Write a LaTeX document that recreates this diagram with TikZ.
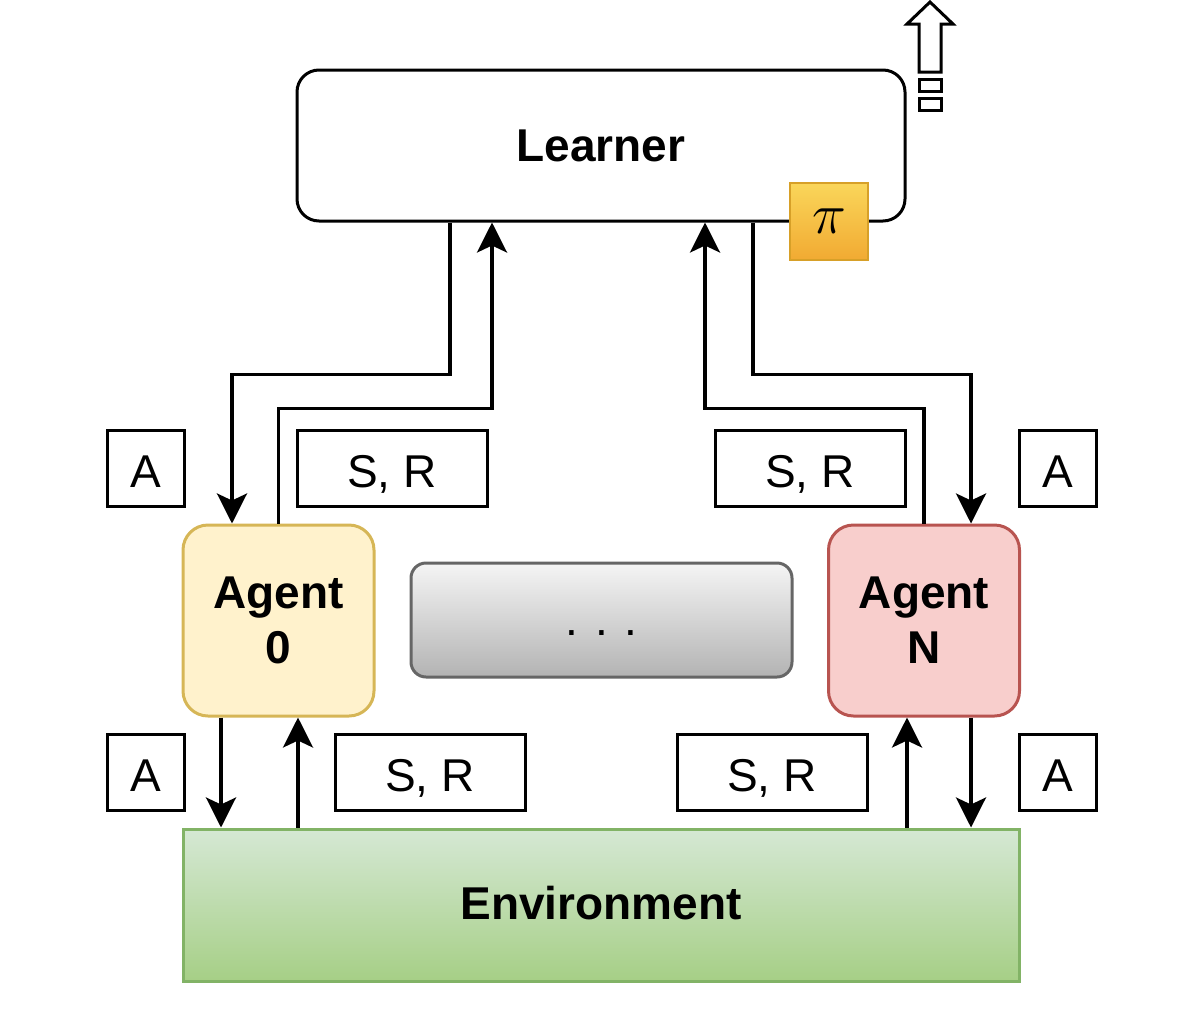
\documentclass[tikz,border=0pt]{standalone}
\usepackage{fontspec}
\setmainfont{Liberation Sans}
\usepackage{tikz}
\usetikzlibrary{arrows.meta,positioning}
\definecolor{zerofill}{RGB}{255,242,204}
\definecolor{zeroline}{RGB}{214,182,86}
\definecolor{nfill}{RGB}{248,206,204}
\definecolor{nline}{RGB}{184,84,80}
\definecolor{envtop}{RGB}{213,232,212}
\definecolor{envbot}{RGB}{166,207,134}
\definecolor{envline}{RGB}{130,179,102}
\definecolor{dotstop}{RGB}{245,245,245}
\definecolor{dotsbot}{RGB}{179,179,179}
\definecolor{dotsline}{RGB}{102,102,102}
\definecolor{pitop}{RGB}{250,214,90}
\definecolor{pibot}{RGB}{241,170,50}
\definecolor{piline}{RGB}{215,160,40}
\newcommand\bigtxt{\fontsize{46}{55}\selectfont}

\begin{document}
\begin{tikzpicture}[x=1pt,y=-1pt, font=\bigtxt,
  box/.style={draw, line width=3pt, inner sep=0pt, align=center, font=\bigtxt\bfseries},
  lbl/.style={draw, line width=3pt, inner sep=0pt, minimum height=76pt, text height=38pt, text depth=0pt},
  arr/.style={-{Stealth[length=30pt,width=30pt,inset=7pt]}, line width=3.5pt},
  icon/.style={line width=3pt, line join=miter}]
  \useasboundingbox (0,0) rectangle (1200,1018);
  % learner and policy
  \node[box, rounded corners=22pt, minimum width=608pt, minimum height=151pt, text depth=-3pt] (learner) at (601,145.5) {Learner};
  \node[draw=piline, line width=2.5pt, top color=pitop, bottom color=pibot,
    minimum width=78pt, minimum height=77pt, inner sep=0pt] (pi) at (829,221.5) {\raisebox{-4pt}{\scalebox{2.3}{$\pi$}}};
  % export icon (top right)
  \draw[icon] (930,2) -- (953,24) -- (941,24) -- (941,72) -- (919,72) -- (919,24) -- (907,24) -- cycle;
  \draw[icon] (919,79) rectangle (941,91);
  \draw[icon] (919,98) rectangle (941,110);
  % agents
  \node[box, rounded corners=25pt, draw=zeroline, fill=zerofill, minimum width=191pt, minimum height=191pt] (agent0) at (278.5,620.5) {Agent\\0};
  \node[box, rounded corners=25pt, draw=nline, fill=nfill, minimum width=191pt, minimum height=191pt] (agentN) at (924,620.5) {Agent\\N};
  \node[box, rounded corners=15pt, draw=dotsline, top color=dotstop, bottom color=dotsbot,
    minimum width=381pt, minimum height=114pt, font=\bigtxt, text height=40pt, text depth=9pt] (dots) at (601.5,620) {. . .};
  % environment
  \node[box, draw=envline, top color=envtop, bottom color=envbot, minimum width=836pt, minimum height=152pt, text depth=5pt] (env) at (601,905) {Environment};
  % labels
  \node[lbl, minimum width=77pt] (a0top) at (145.5,468) {A};
  \node[lbl, minimum width=190pt] (sr0top) at (392,468) {S, R};
  \node[lbl, minimum width=190pt] (srNtop) at (810,468) {S, R};
  \node[lbl, minimum width=77pt] (aNtop) at (1057.5,468) {A};
  \node[lbl, minimum width=77pt] (a0bot) at (145.5,772.5) {A};
  \node[lbl, minimum width=190pt] (sr0bot) at (430,772.5) {S, R};
  \node[lbl, minimum width=190pt] (srNbot) at (772,772.5) {S, R};
  \node[lbl, minimum width=77pt] (aNbot) at (1057.5,772.5) {A};
  % learner <-> agents
  \draw[arr] ([xshift=-151pt]learner.south) -- ++(0,152) -| ([xshift=-46.5pt]agent0.north);
  \draw[arr] (agent0.north) -- ++(0,-115) -| ([xshift=-109pt]learner.south);
  \draw[arr] (agentN.north) -- ++(0,-115) -| ([xshift=104pt]learner.south);
  \draw[arr] ([xshift=152pt]learner.south) -- ++(0,152) -| ([xshift=47pt]agentN.north);
  % agents <-> environment
  \draw[arr] ([xshift=-57.5pt]agent0.south) -- ([xshift=-57.5pt]agent0.south |- env.north);
  \draw[arr] ([xshift=19.5pt]agent0.south |- env.north) -- ([xshift=19.5pt]agent0.south);
  \draw[arr] ([xshift=-17pt]agentN.south |- env.north) -- ([xshift=-17pt]agentN.south);
  \draw[arr] ([xshift=47pt]agentN.south) -- ([xshift=47pt]agentN.south |- env.north);
\end{tikzpicture}
\end{document}
